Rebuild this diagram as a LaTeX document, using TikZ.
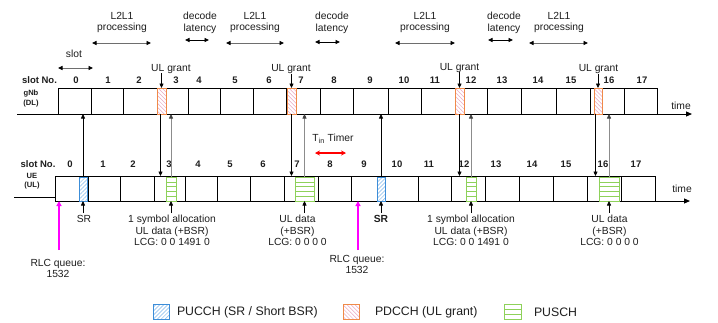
\documentclass[tikz,border=0pt]{standalone}
\usepackage{fontspec}
\setmainfont{Liberation Sans}
\usetikzlibrary{arrows.meta,patterns.meta,calc}

\definecolor{pucchblue}{HTML}{3C8DD8}
\definecolor{pucchhatch}{HTML}{80B8EC}
\definecolor{pdcchorange}{HTML}{F08A48}
\definecolor{pdcchhatch}{HTML}{ECA6C2}
\definecolor{puschgreen}{HTML}{8ED15A}
\definecolor{upgray}{HTML}{8C8C8C}
\definecolor{spangray}{HTML}{6E6E6E}
\definecolor{txt}{HTML}{1E1E1E}
\definecolor{rlcpink}{HTML}{FF00FF}

\begin{document}
\begin{tikzpicture}[x=1pt,y=-1pt,
  every node/.style={inner sep=0pt,outer sep=0pt,text=txt},
  lbl/.style={font=\fontsize{10.3}{11.6}\selectfont,align=center},
  legendtxt/.style={font=\fontsize{12.3}{14}\selectfont,anchor=west},
  slotnum/.style={font=\fontsize{9.5}{11}\selectfont\bfseries,anchor=base},
  rowname/.style={font=\fontsize{7.6}{9.2}\selectfont\bfseries,align=center},
  rowbox/.style={draw=black,line width=1pt,anchor=north west},
  slotline/.style={line width=1pt},
  pucch/.style={draw=pucchblue,line width=1pt,anchor=north west,
    pattern={Lines[angle=45,distance=2.8pt,line width=0.5pt]},pattern color=pucchhatch},
  pdcch/.style={draw=pdcchorange,line width=1pt,anchor=north west,
    pattern={Lines[angle=-45,distance=2.8pt,line width=0.5pt]},pattern color=pdcchhatch},
  pusch/.style={draw=puschgreen,line width=1pt,anchor=north west,
    path picture={\foreach \f in {#1}
      \draw[puschgreen,line width=0.6pt]
        ($(path picture bounding box.north west)!\f!(path picture bounding box.south west)$) --
        ($(path picture bounding box.north east)!\f!(path picture bounding box.south east)$);}},
  pusch/.default={0.2,0.4,0.6,0.8},
  sig/.style={line width=0.7pt,-{Triangle[length=4.5pt,width=4pt]}},
  upsig/.style={line width=0.7pt,draw=upgray,-{Triangle[length=4.5pt,width=4pt,color=black!75]}},
  span/.style={line width=0.9pt,draw=spangray,{Triangle[length=4.5pt,width=4pt,color=black]}-{Triangle[length=4.5pt,width=4pt,color=black]}},
  spanblack/.style={line width=0.9pt,{Triangle[length=4.5pt,width=4pt]}-{Triangle[length=4.5pt,width=4pt]}},
  timer/.style={line width=1.6pt,draw=red,{Stealth[length=5pt,width=5pt]}-{Stealth[length=5pt,width=5pt]}},
  rlc/.style={line width=1.6pt,draw=rlcpink,-{Triangle[length=5pt,width=5pt]}},
  axis/.style={line width=1pt,-{Triangle[length=6pt,width=5pt]}}
]
\fill[white] (0,0) rectangle (718,322);
\useasboundingbox (0,0) rectangle (718,322);

% ---------- processing / latency spans ----------
\node[lbl,anchor=north] (p1) at (122,12) {L2L1\\processing};
\node[lbl,anchor=north] (d1) at (200,12) {decode\\latency};
\node[lbl,anchor=north] (p2) at (255,12) {L2L1\\processing};
\node[lbl,anchor=north] (d2) at (332,12) {decode\\latency};
\node[lbl,anchor=north] (p3) at (425,12) {L2L1\\processing};
\node[lbl,anchor=north] (d3) at (504,12) {decode\\latency};
\node[lbl,anchor=north] (p4) at (559,12) {L2L1\\processing};
\draw[span] (92,43) -- (151,43);
\draw[spanblack] (185,40) -- (209,40);
\draw[span] (226,43) -- (284,43);
\draw[spanblack] (315,42) -- (340,42);
\draw[span] (395,43) -- (455,43);
\draw[spanblack] (488,40) -- (513,40);
\draw[span] (529,43) -- (588,43);

\node[lbl] (slotlbl) at (74,54) {slot};
\draw[span] (58,68) -- (93,68);

% ---------- gNb (DL) row ----------
\node[slotnum] (dlslot) at (39.5,83.4) {slot No.};
\node[rowname] (dlname) at (31,98.6) {gNb\\(DL)};
\foreach \x/\n in {76/0,108/1,139/2,176/3,199/4,235/5,269/6,301/7,334/8,
                   370/9,404/10,435/11,471/12,502/13,538/14,571/15,609/16,642/17}
  \node[slotnum] (dln\n) at (\x,83.4) {\n};

\node[rowbox,minimum width=599pt,minimum height=26pt] (dlrow) at (58,88) {};
\foreach \x in {91,123,157,188,220,253,286,320,353,388,421,455,487,521,556,590,624}
  \draw[slotline] (\x,88) -- (\x,114);
\coordinate (dlstart) at (17,114);
\coordinate (dlend) at (692,114);
\draw[axis] (dlstart) -- (dlend);
\node[lbl] (dltime) at (681,106) {time};

\node[pdcch,minimum width=9pt,minimum height=26pt] (pd1) at (157,88) {};
\node[pdcch,minimum width=9pt,minimum height=26pt] (pd2) at (287,88) {};
\node[pdcch,minimum width=9pt,minimum height=26pt] (pd3) at (455,88) {};
\node[pdcch,minimum width=8pt,minimum height=26pt] (pd4) at (594,88) {};

\node[lbl,anchor=base] (ug1) at (171,71) {UL grant};
\node[lbl,anchor=base] (ug2) at (291,71.5) {UL grant};
\node[lbl,anchor=base] (ug3) at (459.5,70) {UL grant};
\node[lbl,anchor=base] (ug4) at (598.5,71.5) {UL grant};
\draw[sig] (ug1.south -| pd1.north) -- (pd1.north);
\draw[sig] (ug2.south -| pd2.north) -- (pd2.north);
\draw[sig] (ug3.south -| pd3.north) -- (pd3.north);
\draw[sig] (ug4.south -| pd4.north) -- (pd4.north);

% ---------- UE (UL) row ----------
\node[slotnum] (ulslot) at (38,167.4) {slot No.};
\node[rowname] (ulname) at (32,181) {UE\\(UL)};
\foreach \x/\n in {70/0,103/1,133/2,169/3,198/4,230/5,263/6,297/7,330/8,
                   364/9,397/10,429/11,464/12,496/13,532/14,566/15,603/16,636/17}
  \node[slotnum] (uln\n) at (\x,167.4) {\n};

\node[rowbox,minimum width=600pt,minimum height=25pt] (ulrow) at (55,176) {};
\foreach \x in {88,120,154,185,217,250,284,318,351,385,418,451,485,519,553,587,621}
  \draw[slotline] (\x,176) -- (\x,201);
\coordinate (ulfeed) at (14,197);
\draw[slotline] (ulfeed) -- (ulfeed -| ulrow.west);
\coordinate (ulend) at (690,201);
\draw[axis] (ulrow.south west) -- (ulend);
\node[lbl] (ultime) at (682,189) {time};

\node[pucch,minimum width=8pt,minimum height=24pt] (sr1) at (79,177) {};
\node[pucch,minimum width=8pt,minimum height=24pt] (sr2) at (377,177) {};
\node[pusch,minimum width=10pt,minimum height=24pt] (pu1) at (166,177) {};
\node[pusch,minimum width=19pt,minimum height=24pt] (pu2) at (295,177) {};
\node[pusch,minimum width=10pt,minimum height=24pt] (pu3) at (466,177) {};
\node[pusch,minimum width=20pt,minimum height=24pt] (pu4) at (599,177) {};

% ---------- signalling between the rows ----------
\draw[sig] (sr1.north) -- (sr1.north |- dlrow.south);
\draw[sig] ([xshift=-1pt]pd1.south) -- ([xshift=-1pt]pd1.south |- ulrow.north);
\draw[upsig] (pu1.north) -- (pu1.north |- dlrow.south);
\draw[sig] (pd2.south) -- (pd2.south |- ulrow.north);
\draw[upsig] (pu2.north) -- (pu2.north |- dlrow.south);
\draw[sig] (sr2.north) -- (sr2.north |- dlrow.south);
\draw[sig] (pd3.south) -- (pd3.south |- ulrow.north);
\draw[upsig] (pu3.north) -- (pu3.north |- dlrow.south);
\draw[sig] ([xshift=-2.5pt]pd4.south) -- ([xshift=-2.5pt]pd4.south |- ulrow.north);
\draw[upsig] (pu4.north) -- (pu4.north |- dlrow.south);

\node[lbl] (tin) at (333,139) {T\textsubscript{in} Timer};
\coordinate (tinL) at (315,153);
\coordinate (tinR) at (346,153);
\draw[timer] (tinL) -- (tinR);

% ---------- annotations under the UE row ----------
\node[lbl,anchor=north,inner sep=2pt] (srl1) at (84,213) {SR};
\node[lbl,anchor=north,inner sep=2pt] (srl2) at (381,213) {\bfseries SR};
\node[lbl,anchor=north,inner sep=2pt] (al1) at (172,213) {1 symbol allocation\\UL data (+BSR)\\LCG: 0 0 1491 0};
\node[lbl,anchor=north,inner sep=2pt] (ud1) at (297.5,213) {UL data\\(+BSR)\\LCG: 0 0 0 0};
\node[lbl,anchor=north,inner sep=2pt] (al2) at (471,213) {1 symbol allocation\\UL data (+BSR)\\LCG: 0 0 1491 0};
\node[lbl,anchor=north,inner sep=2pt] (ud2) at (609.5,213) {UL data\\(+BSR)\\LCG: 0 0 0 0};
\draw[sig] (srl1.north -| sr1.south) -- (sr1.south);
\draw[sig] (srl2.north -| sr2.south) -- (sr2.south);
\draw[sig] (al1.north -| pu1.south) -- (pu1.south);
\draw[sig] (ud1.north -| pu2.south) -- (pu2.south);
\draw[sig] (al2.north -| pu3.south) -- (pu3.south);
\draw[sig] (ud2.north -| pu4.south) -- (pu4.south);

\coordinate (rlc1tail) at (59,250);
\coordinate (rlc2tail) at (358,250);
\draw[rlc] (rlc1tail) -- (rlc1tail |- ulrow.south);
\draw[rlc] (rlc2tail) -- (rlc2tail |- ulrow.south);
\node[lbl,anchor=north] (rlc1) at (58,259) {RLC queue:\\1532};
\node[lbl,anchor=north] (rlc2) at (357,255) {RLC queue:\\1532};

% ---------- legend ----------
\node[pucch,minimum width=16pt,minimum height=15pt] (lg1) at (153,304) {};
\node[legendtxt] (lt1) at (177,312) {PUCCH (SR / Short BSR)};
\node[pdcch,minimum width=16pt,minimum height=15pt] (lg2) at (343,304) {};
\node[legendtxt] (lt2) at (375,312) {PDCCH (UL grant)};
\node[pusch={0.333,0.667},minimum width=17pt,minimum height=15pt] (lg3) at (504,304) {};
\node[legendtxt] (lt3) at (534,312) {PUSCH};
\end{tikzpicture}
\end{document}
